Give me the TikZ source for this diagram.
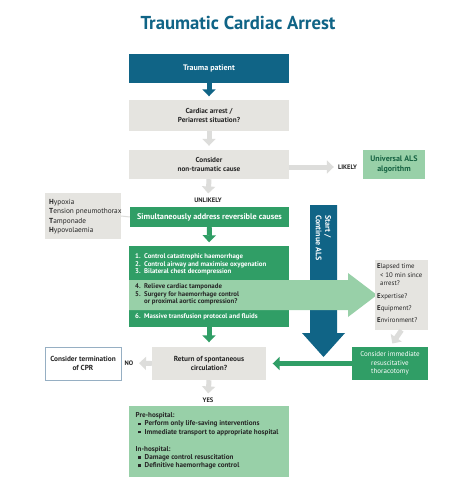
\documentclass[tikz,border=0pt]{standalone}
\usepackage{fontspec}
\setmainfont{PT Sans}
\usetikzlibrary{arrows.meta}
\definecolor{tblue}{RGB}{16,100,134}
\definecolor{boxgrey}{RGB}{229,228,224}
\definecolor{argrey}{RGB}{221,221,219}
\definecolor{mgreen}{RGB}{48,158,102}
\definecolor{lgreen}{RGB}{152,208,168}
\definecolor{txt}{RGB}{38,38,38}
\definecolor{bordr}{RGB}{150,175,195}
\definecolor{dgtxt}{RGB}{22,98,66}
\newcommand\fsz[2]{\fontsize{#1}{#2}\selectfont}
\newcommand\sqb{\makebox[7pt][l]{\rule[0.6pt]{2.8pt}{2.8pt}}}
\newcommand\numb[1]{\makebox[9pt][l]{#1}}
\begin{document}
\begin{tikzpicture}[x=1pt,y=-1pt,
  fbox/.style={inner sep=0pt, align=center},
  greybox/.style={fbox, fill=boxgrey, text=txt, font=\fsz{7.2}{8.6}\bfseries},
  greenbox/.style={fbox, fill=mgreen, text=white},
  lbl/.style={inner sep=0pt, text=txt, font=\fsz{6.5}{7}\bfseries},
  arr/.style={line width=5pt, -{Triangle[width=13pt,length=7pt]}},
  garr/.style={arr, draw=argrey},
  grarr/.style={arr, draw=mgreen},
  barr/.style={arr, draw=tblue}
]
\useasboundingbox (0,0) rectangle (474,495);
\fill[white] (0,0) rectangle (474,495);

% title
\node[inner sep=0pt, text=tblue, font=\fsz{18.7}{20}\bfseries] (title) at (238,22.5) {Traumatic Cardiac Arrest};

% top column
\node[fbox, fill=tblue, text=white, font=\fsz{8}{9}\bfseries, minimum width=160pt, minimum height=29pt] (trauma) at (209,68.5) {Trauma patient};
\node[greybox, minimum width=160pt, minimum height=31pt] (cardiac) at (209,115.5) {Cardiac arrest /\\Periarrest situation?};
\node[greybox, minimum width=160pt, minimum height=29pt] (consider) at (209,164.5) {Consider\\non-traumatic cause};
\node[lbl] (likely) at (347.5,167) {LIKELY};
\node[fbox, fill=lgreen, text=dgtxt, font=\fsz{8}{9.5}\bfseries, minimum width=62pt, minimum height=29pt] (als) at (394,164.5) {Universal ALS\\algorithm};
\node[lbl] (unlikely) at (208,200) {UNLIKELY};

% reversible causes
\node[fbox, fill=boxgrey, text=txt, minimum width=76pt, minimum height=46pt] (hyp) at (83,216) {};
\node[inner sep=0pt, anchor=west, align=left, text=txt, font=\fsz{7.3}{9.4}] (hyptext) at (49,216.5)
  {\textbf{H}ypoxia\\\textbf{T}ension pneumothorax\\\textbf{T}amponade\\\textbf{H}ypovolaemia};
\node[greenbox, font=\fsz{8.2}{9}\bfseries, minimum width=159pt, minimum height=20pt] (simul) at (209.5,217) {Simultaneously address reversible causes};
\draw[argrey, line width=1pt] (hyp.east) -- (simul.west);

% big green box
\node[greenbox, minimum width=160pt, minimum height=81pt] (steps) at (209,286.5) {};

% Start / Continue ALS arrow
\fill[tblue] (310,205) -- (337,205) -- (337,333) -- (345,333) -- (323.5,357) -- (302,333) -- (310,333) -- cycle;
\node[rotate=-90, inner sep=0pt, align=left, text=white, font=\fsz{8}{9.5}\bfseries] (startals) at (323.5,238) {Start /\\Continue ALS};

% light green band arrow
\fill[lgreen] (129,280) -- (348,280) -- (348,273) -- (377,295) -- (348,317) -- (348,310) -- (129,310) -- cycle;

\node[inner sep=0pt, anchor=west, align=left, text=white, font=\fsz{6.8}{7.6}\bfseries] (s123) at (135,264.5)
  {\numb{1.}Control catastrophic haemorrhage\\\numb{2.}Control airway and maximise oxygenation\\\numb{3.}Bilateral chest decompression};
\node[inner sep=0pt, anchor=west, align=left, text=txt, font=\fsz{6.8}{7.6}\bfseries] (s45) at (135,294.5)
  {\numb{4.}Relieve cardiac tamponade\\\numb{5.}Surgery for haemorrhage control\\\numb{}or proximal aortic compression?};
\node[inner sep=0pt, anchor=west, align=left, text=white, font=\fsz{6.8}{7.6}\bfseries] (s6) at (135,317)
  {\numb{6.}Massive transfusion protocol and fluids};

% EEEE box
\node[fbox, fill=boxgrey, minimum width=53pt, minimum height=70pt] (eeee) at (401.5,295) {};
\node[inner sep=0pt, anchor=north west, align=left, text=txt, font=\fsz{6.8}{8.5}] (eeeetext) at (377,263.8)
  {\textbf{E}lapsed time\\\hspace{3pt}< 10 min since\\\hspace{3pt}arrest?\\[4.3pt]\textbf{E}xpertise?\\[3.5pt]\textbf{E}quipment?\\[3.5pt]\textbf{E}nvironment?};
\node[greenbox, font=\fsz{7}{8.4}, minimum width=76pt, minimum height=33pt] (thora) at (390,363.5) {Consider immediate\\resuscitative\\thoracotomy};

% bottom
\node[greybox, font=\fsz{7.3}{8.8}\bfseries, minimum width=114pt, minimum height=33pt] (rosc) at (209,363.5) {Return of spontaneous\\circulation?};
\node[fbox, fill=white, draw=bordr, line width=0.8pt, text=txt, font=\fsz{7.3}{8.8}\bfseries, minimum width=76pt, minimum height=33pt] (term) at (83,363.5) {Consider termination\\of CPR};
\node[lbl] (no) at (129,363) {NO};
\node[lbl] (yes) at (208,400) {YES};
\node[fbox, fill=lgreen, minimum width=160pt, minimum height=71pt] (final) at (209,441.5) {};
\node[inner sep=0pt, anchor=north west, align=left, text=txt, font=\fsz{7.1}{8.1}\bfseries] (finaltext) at (135.5,412.6)
  {Pre-hospital:\\\hspace{2pt}\sqb Perform only life-saving interventions\\\hspace{2pt}\sqb Immediate transport to appropriate hospital\\[9.5pt]In-hospital:\\\hspace{2pt}\sqb Damage control resuscitation\\\hspace{2pt}\sqb Definitive haemorrhage control};

% connectors
\draw[barr, shorten >=3.5pt] (trauma.south) -- (cardiac.north);
\draw[garr, shorten >=4pt] (cardiac.south) -- (consider.north);
\draw[garr, shorten >=4pt] (consider.east |- likely.west) -- (likely.west);
\draw[garr, shorten >=4pt] (consider.south) -- (unlikely.north);
\draw[grarr, shorten >=3.5pt] (simul.south) -- (steps.north);
\draw[grarr, shorten >=4.5pt] (steps.south) -- (rosc.north);
\draw[garr, shorten >=4pt] (eeee.south) -- (thora.north);
\draw[grarr, line width=4.5pt, shorten >=6.5pt] (thora.west) -- (rosc.east);
\draw[garr, shorten >=5.5pt] (rosc.west) -- (no.east);
\draw[garr, shorten >=4pt] (rosc.south) -- (yes.north);
\end{tikzpicture}
\end{document}
